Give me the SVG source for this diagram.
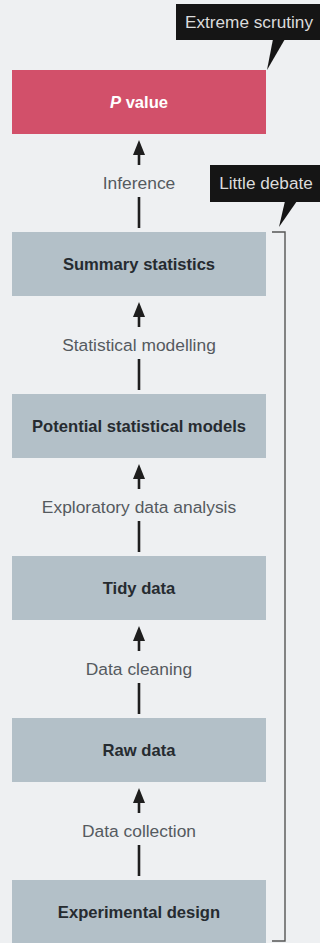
<svg xmlns="http://www.w3.org/2000/svg" width="320" height="943" viewBox="0 0 320 943">
  <defs>
    <style>
      .bg { fill: #eef0f2; }
      .box { fill: #b3c0c8; }
      .pbox { fill: #d2506a; }
      .btxt { font-family: "Liberation Sans", Arial, sans-serif; font-weight: bold; font-size: 16.6px; fill: #262b30; text-anchor: middle; }
      .ptxt { font-family: "Liberation Sans", Arial, sans-serif; font-weight: bold; font-size: 16.6px; fill: #ffffff; text-anchor: middle; }
      .lbl { font-family: "Liberation Sans", Arial, sans-serif; font-size: 17.4px; fill: #555a5f; text-anchor: middle; }
      .ctxt { font-family: "Liberation Sans", Arial, sans-serif; font-size: 17.2px; fill: #dcdcdc; text-anchor: middle; }
      .shaft { stroke: #1e1e1e; stroke-width: 2.6; fill: none; }
      .head { fill: #1e1e1e; }
      .callout { fill: #151515; }
      .bracket { stroke: #555; stroke-width: 1.4; fill: none; }
    </style>
  </defs>
  <rect class="bg" x="0" y="0" width="320" height="943"/>

  <g id="connectors">
    <g id="c-inference">
      <line class="shaft" x1="139" y1="150" x2="139" y2="165"/>
      <polygon class="head" points="139,140 133,155 145,155"/>
      <text class="lbl" x="139" y="189">Inference</text>
      <line class="shaft" x1="139" y1="197" x2="139" y2="228"/>
    </g>
    <g id="c-modelling">
      <line class="shaft" x1="139" y1="312" x2="139" y2="327"/>
      <polygon class="head" points="139,302 133,317 145,317"/>
      <text class="lbl" x="139" y="351">Statistical modelling</text>
      <line class="shaft" x1="139" y1="359" x2="139" y2="390"/>
    </g>
    <g id="c-eda">
      <line class="shaft" x1="139" y1="474" x2="139" y2="489"/>
      <polygon class="head" points="139,464 133,479 145,479"/>
      <text class="lbl" x="139" y="513">Exploratory data analysis</text>
      <line class="shaft" x1="139" y1="521" x2="139" y2="552"/>
    </g>
    <g id="c-cleaning">
      <line class="shaft" x1="139" y1="636" x2="139" y2="651"/>
      <polygon class="head" points="139,626 133,641 145,641"/>
      <text class="lbl" x="139" y="675">Data cleaning</text>
      <line class="shaft" x1="139" y1="683" x2="139" y2="714"/>
    </g>
    <g id="c-collection">
      <line class="shaft" x1="139" y1="798" x2="139" y2="813"/>
      <polygon class="head" points="139,788 133,803 145,803"/>
      <text class="lbl" x="139" y="837">Data collection</text>
      <line class="shaft" x1="139" y1="845" x2="139" y2="876"/>
    </g>
  </g>

  <g id="node-pvalue">
    <rect class="pbox" x="12" y="70" width="254" height="64"/>
    <text class="ptxt" x="139" y="108"><tspan font-style="italic">P</tspan> value</text>
  </g>
  <g id="node-summary">
    <rect class="box" x="12" y="232" width="254" height="64"/>
    <text class="btxt" x="139" y="270">Summary statistics</text>
  </g>
  <g id="node-models">
    <rect class="box" x="12" y="394" width="254" height="64"/>
    <text class="btxt" x="139" y="432">Potential statistical models</text>
  </g>
  <g id="node-tidy">
    <rect class="box" x="12" y="556" width="254" height="64"/>
    <text class="btxt" x="139" y="594">Tidy data</text>
  </g>
  <g id="node-raw">
    <rect class="box" x="12" y="718" width="254" height="64"/>
    <text class="btxt" x="139" y="756">Raw data</text>
  </g>
  <g id="node-design">
    <rect class="box" x="12" y="880" width="254" height="64"/>
    <text class="btxt" x="139" y="918">Experimental design</text>
  </g>

  <g id="callout-scrutiny">
    <rect class="callout" x="176" y="4" width="144" height="36"/>
    <polygon class="callout" points="273,39 285,39 267,70"/>
    <text class="ctxt" x="249" y="28">Extreme scrutiny</text>
  </g>
  <g id="callout-debate">
    <rect class="callout" x="210" y="165" width="110" height="37"/>
    <polygon class="callout" points="285,201 297,201 279,227"/>
    <text class="ctxt" x="266" y="189">Little debate</text>
  </g>
  <path class="bracket" d="M272,232 H285 V941 H272"/>
</svg>
